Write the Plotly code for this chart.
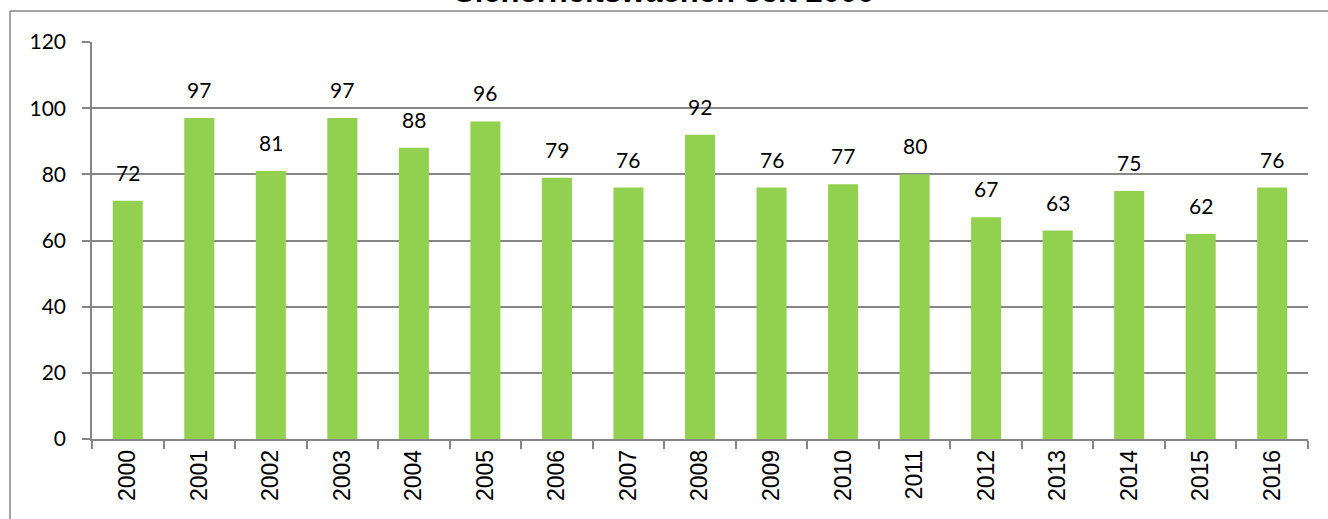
import plotly.graph_objects as go

# Years and counts
years = ["2000", "2001", "2002", "2003", "2004", "2005", "2006", "2007", "2008",
         "2009", "2010", "2011", "2012", "2013", "2014", "2015", "2016"]
counts = [72, 97, 81, 97, 88, 96, 79, 76, 92, 76, 77, 80, 67, 63, 75, 62, 76]
y_ticks = [0, 20, 40, 60, 80, 100, 120]

title_text = "Sicherheitswachen seit 2000"
grid_col = "#868686"
bar_col = "#92D050"

fig = go.Figure()
fig.add_trace(go.Bar(x=years, y=counts, marker=dict(color=bar_col, line=dict(width=0)),
                     hoverinfo="x+y"))

# value labels above the bars (category axis -> position by serial number)
for i, v in enumerate(counts):
    fig.add_annotation(x=i, y=v, text=str(v), showarrow=False, yanchor="bottom",
                       yshift=14, font=dict(family="Lato", size=21, color="black"))

# clipped title at the very top
fig.add_annotation(text="<b>" + title_text + "</b>", xref="paper", yref="paper",
                   x=0.47, y=1.078, xanchor="center", yanchor="bottom", showarrow=False,
                   font=dict(family="Liberation Sans", size=31, color="black"))

# outer chart border (top and left edges visible)
fig.add_shape(type="line", xref="paper", yref="paper", x0=-82 / 1216, x1=1.1,
              y0=1 + 31 / 397, y1=1 + 31 / 397, line=dict(color=grid_col, width=1.5))
fig.add_shape(type="line", xref="paper", yref="paper", x0=-82 / 1216, x1=-82 / 1216,
              y0=-0.3, y1=1 + 31 / 397, line=dict(color=grid_col, width=1.5))

fig.update_layout(
    width=1328, height=519,
    margin=dict(l=92, r=20, t=42, b=80),
    paper_bgcolor="white", plot_bgcolor="white",
    bargap=0.58, showlegend=False,
)
fig.update_xaxes(type="category", range=[-0.5, len(years) - 0.5],
                 showline=True, linecolor=grid_col, linewidth=1.5,
                 ticks="outside", tickson="boundaries", ticklen=8, tickcolor=grid_col,
                 tickwidth=1.5, tickangle=-90, showgrid=False,
                 tickfont=dict(family="Liberation Sans", size=23, color="black"))
fig.update_yaxes(range=[0, 120], tickvals=y_ticks, showgrid=True, gridcolor=grid_col,
                 gridwidth=1.5, showline=True, linecolor=grid_col, linewidth=1.5,
                 ticks="outside", ticklen=8, tickcolor=grid_col, tickwidth=1.5,
                 ticklabelstandoff=12, zeroline=False,
                 tickfont=dict(family="Lato", size=21, color="black"))

# drop the browser's default page margin so the figure sits at the window corner
fig.write_html("out.html", config={"displayModeBar": False},
               post_script="document.body.style.margin='0';")
